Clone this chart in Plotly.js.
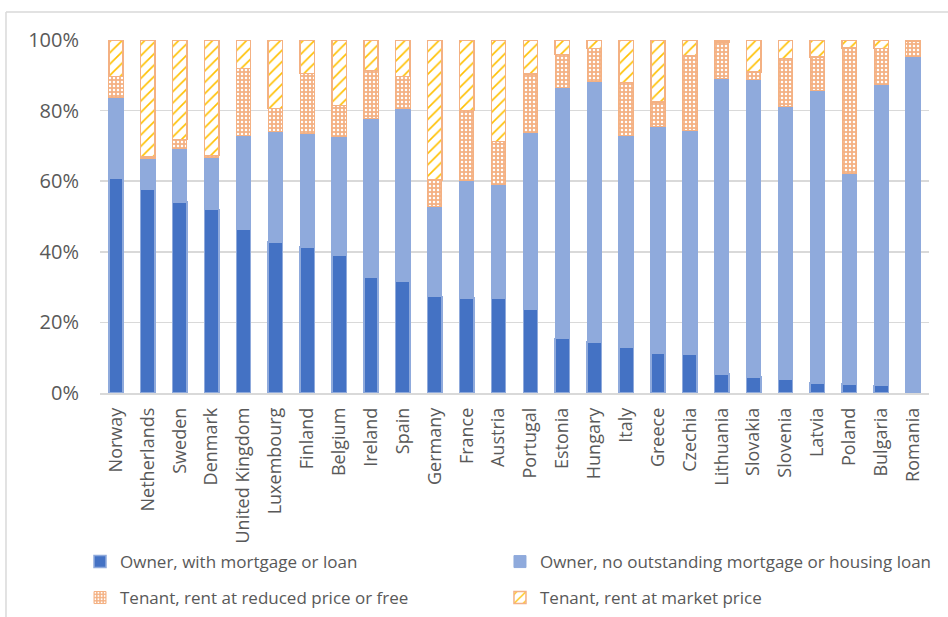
<!DOCTYPE html>
<html>
<head>
<meta charset="utf-8">
<script src="https://cdn.plot.ly/plotly-3.0.1.min.js"></script>
<style>html,body{margin:0;padding:0;background:#fff;}#chart{width:948px;height:617px;}</style>
</head>
<body>
<div id="chart"></div>
<script>
const countries = ["Norway","Netherlands","Sweden","Denmark","United Kingdom","Luxembourg","Finland","Belgium","Ireland","Spain","Germany","France","Austria","Portugal","Estonia","Hungary","Italy","Greece","Czechia","Lithuania","Slovakia","Slovenia","Latvia","Poland","Bulgaria","Romania"];
const ownerMortgage = [60.8,57.8,54.1,52.0,46.5,42.8,41.4,39.0,32.8,31.7,27.4,26.9,26.9,23.8,15.5,14.4,13.1,11.4,10.9,5.4,4.5,3.8,2.9,2.5,2.1,0.3];
const ownerNoMortgage = [22.8,8.5,15.2,14.8,26.5,31.4,32.0,33.8,45.1,48.8,25.5,33.3,32.1,50.1,71.0,73.8,59.9,64.0,63.5,83.7,84.3,77.3,82.8,59.8,85.3,94.9];
const tenantReduced = [6.1,0.5,2.5,0.5,18.9,6.4,17.1,8.6,13.5,9.1,7.4,19.8,12.3,16.5,9.4,9.4,14.9,7.0,21.0,10.4,2.1,13.6,9.5,35.5,10.2,4.4];
const tenantMarket = [10.3,33.2,28.2,32.7,8.1,19.4,9.5,18.6,8.6,10.4,39.7,20.0,28.7,9.6,4.1,2.4,12.1,17.6,4.6,0.5,9.1,5.3,4.8,2.2,2.4,0.4];
const seriesNames = ["Owner, with mortgage or loan","Owner, no outstanding mortgage or housing loan","Tenant, rent at reduced price or free","Tenant, rent at market price"];

const pct = a => a.map(v => v/100);
const legendFont = {family:"Open Sans, sans-serif", size:17, color:"#595959"};

const traces = [
  {type:"bar", name:seriesNames[0], x:countries, y:pct(ownerMortgage), legend:"legend", showlegend:true,
   marker:{color:"#4472C4", line:{color:"#8FAADC", width:1.5}}},
  {type:"bar", name:seriesNames[1], x:countries, y:pct(ownerNoMortgage), legend:"legend2", showlegend:true,
   marker:{color:"#8FAADC", line:{color:"#8FAADC", width:1}}},
  {type:"bar", name:seriesNames[2], x:countries, y:pct(tenantReduced), legend:"legend3", showlegend:true,
   marker:{color:"#F4B183", line:{color:"#F4B183", width:1},
     pattern:{shape:".", fgcolor:"#FFFFFF", bgcolor:"#F4B183", size:4, solidity:0.3}}},
  {type:"bar", name:seriesNames[3], x:countries, y:pct(tenantMarket), legend:"legend4", showlegend:true,
   marker:{color:"#FFFFFF", line:{color:"#F4B183", width:1.5},
     pattern:{shape:"/", fgcolor:"#FFC000", bgcolor:"#FFFFFF", size:8, solidity:0.2}}}
];

const legendBase = {orientation:"h", xref:"container", yref:"container", xanchor:"left", yanchor:"middle", font:legendFont,
  itemwidth:30, traceorder:"normal", bgcolor:"rgba(0,0,0,0)", visible:true};

const layout = {
  width:948, height:617,
  showlegend:true,
  margin:{l:100, r:19, t:40, b:224},
  paper_bgcolor:"#FFFFFF", plot_bgcolor:"#FFFFFF",
  barmode:"stack", bargap:0.55,
  font:{family:"Open Sans, sans-serif", color:"#595959"},
  xaxis:{type:"category", tickangle:-90, tickfont:{family:"Open Sans, sans-serif", size:18, color:"#595959"},
    showline:true, linecolor:"#D9D9D9", linewidth:1.5, ticks:"", showgrid:false, fixedrange:true, ticklabelstandoff:6},
  yaxis:{range:[0,1], dtick:0.2, tickformat:".0%", tickfont:{family:"Open Sans, sans-serif", size:20, color:"#595959"},
    gridcolor:"#D9D9D9", gridwidth:1.5, zeroline:false, showline:false, ticks:"", ticklabelstandoff:20, fixedrange:true},
  legend:Object.assign({}, legendBase, {x:0.0844, y:0.0891}),
  legend2:Object.assign({}, legendBase, {x:0.5274, y:0.0891}),
  legend3:Object.assign({}, legendBase, {x:0.0844, y:0.0308}),
  legend4:Object.assign({}, legendBase, {x:0.5274, y:0.0308}),
  shapes:[
    {type:"line", xref:"paper", yref:"paper", x0:-0.1134, x1:1.03, y0:1.0792, y1:1.0792, line:{color:"#D9D9D9", width:1.5}},
    {type:"line", xref:"paper", yref:"paper", x0:-0.1134, x1:-0.1134, y0:1.0792, y1:-0.65, line:{color:"#D9D9D9", width:1.5}}
  ]
};

Plotly.newPlot("chart", traces, layout, {displayModeBar:false, staticPlot:true});
</script>
</body>
</html>
